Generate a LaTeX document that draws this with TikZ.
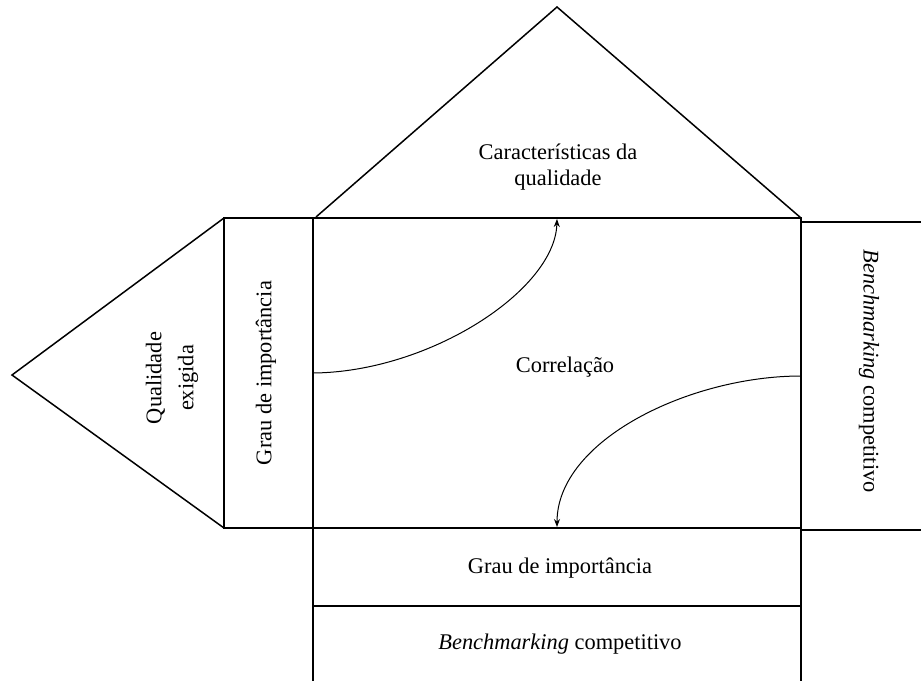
\documentclass[tikz,border=0pt]{standalone}
\usepackage{fontspec}
\setmainfont{Liberation Serif}
\usetikzlibrary{arrows.meta}

\begin{document}
\begin{tikzpicture}[x=0.5pt,y=-0.5pt,
  lbl/.style={font=\fontsize{11.2}{13}\selectfont, align=center, inner sep=0pt},
  boxline/.style={line width=0.75pt},
  flow/.style={-{Stealth[length=4pt,width=3pt]}, line width=0.5pt}]
  \useasboundingbox (0,0) rectangle (921,681);

  % Corners of the house
  \coordinate (apex) at (557,7);
  \coordinate (tl) at (313,218);
  \coordinate (tr) at (801,218);
  \coordinate (bl) at (313,528);
  \coordinate (br) at (801,528);
  \coordinate (lw) at (224,218);
  \coordinate (lwb) at (224,528);
  \coordinate (tip) at (12,375);

  % Roof
  \draw[boxline] (316,217) -- (apex) -- (tr);
  % Correlation matrix
  \draw[boxline] (tl) rectangle (br);
  % Left column and triangle
  \draw[boxline] (tl) -- (lw) -- (lwb) -- (bl);
  \draw[boxline] (lw) -- (tip) -- (lwb);
  % Right column
  \draw[boxline] (801,222) -- (921,222);
  \draw[boxline] (801,530) -- (921,530);
  % Bottom rows
  \draw[boxline] (bl) -- (313,681);
  \draw[boxline] (br) -- (801,681);
  \draw[boxline] (313,606) -- (801,606);

  % Texts
  \node[lbl] (caract) at (558,167) {Características da\\qualidade};
  \node[lbl] (corr) at (565,367) {Correlação};
  \node[lbl, rotate=90] (grauL) at (266,373) {Grau de importância};
  \node[lbl, rotate=90, font=\fontsize{11.2}{16}\selectfont] (qual) at (172,378) {Qualidade\\exigida};
  \node[lbl, rotate=-90] (benchR) at (869,371) {\textit{Benchmarking} competitivo};
  \node[lbl] (grauB) at (560,568) {Grau de importância};
  \node[lbl] (benchB) at (560,644) {\textit{Benchmarking} competitivo};

  % Correlation arrows
  \coordinate (a1) at (313,373);
  \coordinate (a2) at (557,219);
  \coordinate (b1) at (801,376);
  \coordinate (b2) at (557,527);
  \draw[flow] (a1) .. controls (430,372) and (555,290) .. (a2);
  \draw[flow] (b1) .. controls (690,376) and (557,440) .. (b2);
\end{tikzpicture}
\end{document}
